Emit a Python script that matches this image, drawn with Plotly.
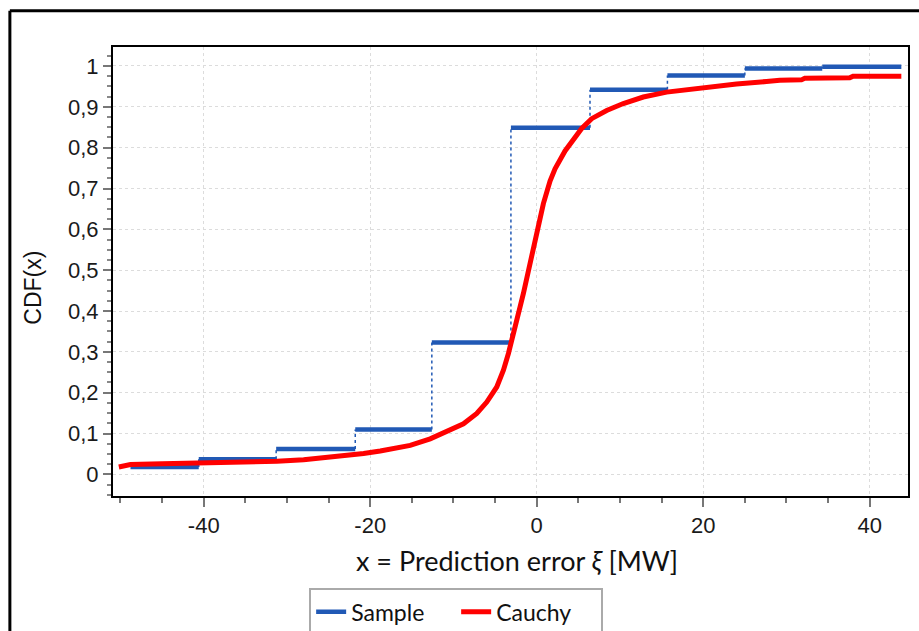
import plotly.graph_objects as go

# ---- data ----
sample_edges = [-48.8, -40.6, -31.3, -21.8, -12.6, -3.1, 6.4, 15.7, 25.0, 34.3, 43.8]
sample_levels = [0.018, 0.037, 0.062, 0.110, 0.323, 0.849, 0.942, 0.977, 0.994, 0.998]

cauchy_x = [-50.2, -48.8, -45, -40, -35, -31.2, -28, -24.8, -23.2, -20.8, -18.8, -17, -15.2,
            -12.8, -10.8, -8.8, -7.2, -6.0, -4.8, -4.0, -3.4, -3.0, -2.4, -2.0, -1.6, -1.0,
            -0.4, 0.2, 0.8, 1.6, 2.2, 3.4, 4.4, 5.4, 6.6, 8.4, 10.4, 12.8, 15.6, 17.2, 19.2,
            24, 27.6, 29.2, 31.8, 32.2, 37.6, 38, 43.8]
cauchy_y = [0.018, 0.024, 0.026, 0.028, 0.030, 0.032, 0.036, 0.042, 0.044, 0.051, 0.057, 0.063,
            0.071, 0.087, 0.104, 0.124, 0.149, 0.177, 0.214, 0.255, 0.296, 0.326, 0.377, 0.410,
            0.443, 0.500, 0.549, 0.614, 0.663, 0.718, 0.748, 0.792, 0.818, 0.847, 0.871, 0.891,
            0.908, 0.924, 0.936, 0.940, 0.946, 0.956, 0.962, 0.965, 0.966, 0.970, 0.971, 0.975,
            0.975]

x_tickvals = [-40, -20, 0, 20, 40]
x_ticktext = ["-40", "-20", "0", "20", "40"]
y_tickvals = [0, 0.1, 0.2, 0.3, 0.4, 0.5, 0.6, 0.7, 0.8, 0.9, 1.0]

BLUE = "#2159b5"
RED = "#ff0000"

# horizontal segments
hx, hy = [], []
for i, lv in enumerate(sample_levels):
    hx += [sample_edges[i], sample_edges[i + 1], None]
    hy += [lv, lv, None]
# vertical connectors
vx, vy = [], []
for i in range(1, len(sample_levels)):
    vx += [sample_edges[i], sample_edges[i], None]
    vy += [sample_levels[i - 1], sample_levels[i], None]

fig = go.Figure()
fig.add_trace(go.Scatter(x=vx, y=vy, mode="lines", showlegend=False, hoverinfo="skip",
                         line=dict(color=BLUE, width=1.5, dash="dot")))
fig.add_trace(go.Scatter(x=hx, y=hy, mode="lines", name="Sample",
                         line=dict(color=BLUE, width=4.5)))
fig.add_trace(go.Scatter(x=cauchy_x, y=cauchy_y, mode="lines", name="Cauchy",
                         line=dict(color=RED, width=5)))

W, H = 919, 631
ml, mr, mt, mb = 112.7, 10.7, 46.7, 135.3
pw = W - ml - mr
ph = H - mt - mb

def px2paper_x(p):
    return (p - ml) / pw

def px2paper_y(p):
    return (H - mb - p) / ph

tickfont = dict(family="Liberation Sans, Arial", size=22, color="#1a1a1a")

fig.update_layout(
    width=W, height=H,
    margin=dict(l=ml, r=mr, t=mt, b=mb, autoexpand=False),
    paper_bgcolor="white", plot_bgcolor="white",
    separators=", ",
    xaxis=dict(
        range=[-50.9, 44.6], tickvals=x_tickvals, ticktext=x_ticktext,
        ticks="outside", ticklen=9, tickwidth=2, tickcolor="#777",
        tickfont=tickfont,
        showgrid=True, gridcolor="#dcdcdc", griddash="dot", gridwidth=1,
        zeroline=False, showline=True, linecolor="black", linewidth=2, mirror=True,
        minor=dict(dtick=5, tick0=0, ticks="outside", ticklen=5, tickwidth=2,
                   tickcolor="#777", showgrid=False),
        automargin=False,
    ),
    yaxis=dict(
        range=[-0.053, 1.0465], tickvals=y_tickvals,
        ticks="outside", ticklen=8, tickwidth=2, tickcolor="#777",
        tickfont=tickfont,
        showgrid=True, gridcolor="#dcdcdc", griddash="dot", gridwidth=1,
        zeroline=False, showline=True, linecolor="black", linewidth=2, mirror=True,
        minor=dict(dtick=0.025, tick0=0, ticks="outside", ticklen=4, tickwidth=2,
                   tickcolor="#888", showgrid=False),
        automargin=False,
    ),
    legend=dict(
        orientation="h", x=px2paper_x(309), xanchor="left",
        y=px2paper_y(588), yanchor="top",
        bordercolor="#aaaaaa", borderwidth=2, bgcolor="white",
        font=dict(family="Lato", size=23, color="#111"),
        itemwidth=30, traceorder="normal",
        entrywidth=100, entrywidthmode="pixels",
    ),
    annotations=[
        dict(text="x = Prediction error <i>ξ</i> [MW]", xref="paper", yref="paper",
             x=px2paper_x(517), y=px2paper_y(560), xanchor="center", yanchor="middle",
             showarrow=False, font=dict(family="Lato", size=27, color="#111")),
        dict(text="CDF(x)", xref="paper", yref="paper", textangle=-90,
             x=px2paper_x(33), y=px2paper_y(287), xanchor="center", yanchor="middle",
             showarrow=False, font=dict(family="Liberation Sans, Arial", size=23, color="#111")),
    ],
    shapes=[
        dict(type="line", xref="paper", yref="paper",
             x0=px2paper_x(9.5), x1=px2paper_x(930), y0=px2paper_y(10.5), y1=px2paper_y(10.5),
             line=dict(color="black", width=3)),
        dict(type="line", xref="paper", yref="paper",
             x0=px2paper_x(9.5), x1=px2paper_x(9.5), y0=px2paper_y(10.5), y1=px2paper_y(640),
             line=dict(color="black", width=3)),
    ],
)

fig.write_html("out.html")
